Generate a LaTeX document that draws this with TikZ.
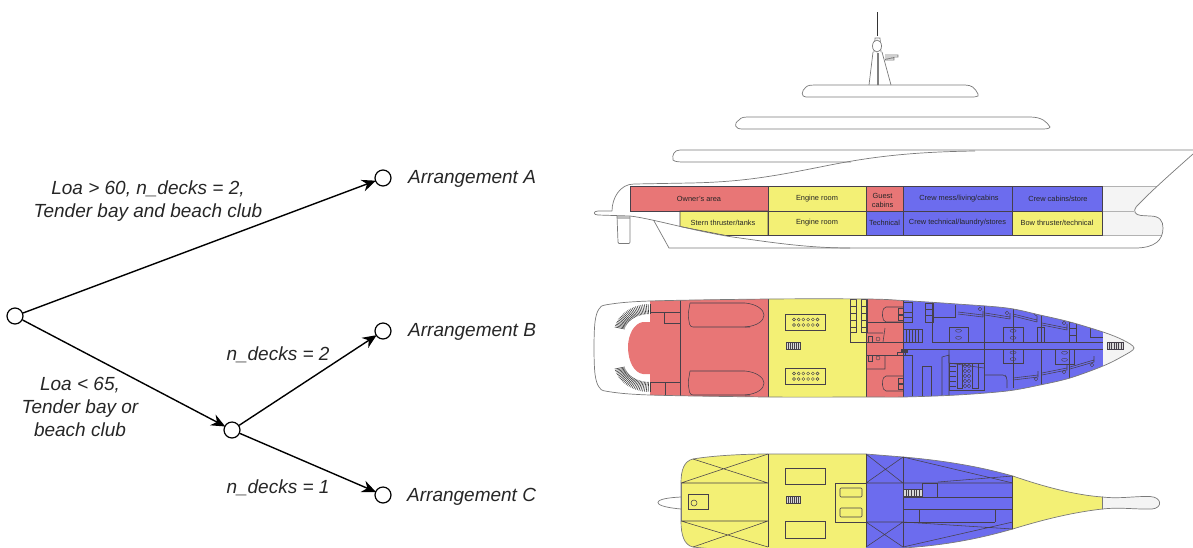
\documentclass[tikz,border=0pt]{standalone}
\usepackage{fontspec}
\setmainfont{Liberation Sans}
\usetikzlibrary{arrows.meta}
\definecolor{zred}{HTML}{E87676}
\definecolor{zyel}{HTML}{F3F075}
\definecolor{zblu}{HTML}{6C6CEE}
\definecolor{zgry}{HTML}{F4F4F4}
\definecolor{zlin}{HTML}{46404A}
\definecolor{zhul}{HTML}{7A7A7A}
\tikzset{
  dnode/.style={circle,draw=black,fill=white,line width=1.2pt,minimum size=16pt,inner sep=0pt},
  farrow/.style={line width=1.4pt,-{Stealth[length=14pt,width=12pt]},shorten >=-1pt},
  flabel/.style={font=\fontsize{19}{23}\selectfont\itshape,align=center,inner sep=0pt,text=black!85},
  clabel/.style={font=\fontsize{7.4}{9}\selectfont,align=center,inner sep=0pt,text=black!85},
  hull/.style={draw=zhul,line width=0.7pt},
  inner/.style={draw=zlin,line width=0.55pt},
  thin inner/.style={draw=zlin,line width=0.4pt},
}
\newcommand{\zBed}[6]{\draw[inner] (#1,#2)--(#3,#4) (#1,#2+2)--(#3,#4+2) (#3,#4+2)--(#3,#4-4);\draw[thin inner] (#5,#6) circle (1.8pt);}
\newcommand{\zStair}[4]{\draw[inner,fill=white!70!gray] (#1,#2) rectangle (#3,#4);\foreach \zi in {1,...,6}{\draw[thin inner] ({#1+\zi*(#3-#1)/7},#2)--({#1+\zi*(#3-#1)/7},#4);}}
\newcommand{\zWC}[4]{\draw[inner] (#1,#2) rectangle (#3,#4);\draw[thin inner] ({(#1+#3)/2},{#2+(#4-#2)*0.25}) ellipse (3pt and 1.5pt) ({(#1+#3)/2},{#2+(#4-#2)*0.72}) ellipse (3pt and 1.5pt);}
\begin{document}
\begin{tikzpicture}[x=1pt,y=-1pt]
\useasboundingbox (0,0) rectangle (1193,547);
% ---------- decision tree
\node[dnode] (root) at (15,316) {};
\node[dnode] (mid) at (232,430) {};
\node[dnode] (endA) at (383,178) {};
\node[dnode] (endB) at (383,331) {};
\node[dnode] (endC) at (383,495) {};
\draw[farrow] (root) -- (endA);
\draw[farrow] (root) -- (mid);
\draw[farrow] (mid) -- (endB);
\draw[farrow] (mid) -- (endC);
\node[flabel] (la) at (148,201.5) {Loa > 60, n\_decks = 2,\\Tender bay and beach club};
\node[flabel] (lb) at (80,407) {Loa < 65,\\Tender bay or\\beach club};
\node[flabel] (lc) at (278,355) {n\_decks = 2};
\node[flabel] (ld) at (278,488) {n\_decks = 1};
\node[flabel,anchor=west] (ta) at (408,179) {Arrangement A};
\node[flabel,anchor=west] (tb) at (408,332) {Arrangement B};
\node[flabel,anchor=west] (tc) at (407,497) {Arrangement C};
% ---------- side elevation
% mast
\draw[line width=1.1pt,black!80] (877.5,12)--(877.5,36);
\draw[hull] (869,85)--(873,52) (882,52)--(891,85) (874,52)--(875,38)--(880,38)--(881,52);
\draw[hull,fill=white] (877,46) ellipse (4.5pt and 6pt);
\draw[gray,line width=2pt,dash pattern=on 0.7pt off 0.3pt] (877.5,53)--(877.5,85);
\draw[hull] (885,55)--(898,55)--(898,57)--(885,57) (885,59)--(894,58)--(894,60)--(885,60);
% upper decks
\draw[hull] (806,97) .. controls (801,97) and (801,91) .. (806,87) .. controls (808,85) and (812,85) .. (815,85) -- (965,85) .. controls (972,85) and (975,88) .. (978,94) -- (978,96) .. controls (976,97) and (974,97) .. (970,97) -- cycle;
\draw[hull] (742,129) .. controls (735,129) and (733,124) .. (739,120) .. controls (741,117) and (745,117) .. (750,117) -- (1030,117) .. controls (1042,117) and (1047,122) .. (1050,127) .. controls (1049,129) and (1046,129) .. (1040,129) -- cycle;
% colour cells
\fill[zgry] (1102.5,186)--(1157,186)--(1134,211)--(1140,215)--(1151,216) .. controls (1160,216) and (1163,221) .. (1163,228) -- (1162,235.5) -- (1102.5,235.5) -- cycle;
\fill[zred] (630,186) rectangle (768,211);
\fill[zyel] (768,186) rectangle (866.5,211);
\fill[zred] (866.5,186) rectangle (903.5,211);
\fill[zblu] (903.5,186) rectangle (1102.5,211);
\fill[zyel] (680,226.5)--(680,211)--(866.5,211)--(866.5,235.5)--(726,235.5)--cycle;
\fill[zblu] (866.5,211) rectangle (1012,235.5);
\fill[zyel] (1012,211) rectangle (1102.5,235.5);
\draw[inner] (630,186) rectangle (768,211);
\draw[inner] (768,186) rectangle (866.5,211);
\draw[inner] (866.5,186) rectangle (903.5,211);
\draw[inner] (903.5,186) rectangle (1012,211);
\draw[inner] (1012,186) rectangle (1102.5,211);
\draw[inner] (680,226.5)--(680,211)--(768,211)--(768,235.5)--(726,235.5)--cycle;
\draw[inner] (768,211) rectangle (866.5,235.5);
\draw[inner] (866.5,211) rectangle (903.5,235.5);
\draw[inner] (903.5,211) rectangle (1012,235.5);
\draw[inner] (1012,211) rectangle (1102.5,235.5);
\draw[draw=gray!60,line width=0.5pt] (1102.5,186)--(1157,186) (1102.5,211)--(1134,211) (1102.5,235.5)--(1162,235.5);
\node[clabel] (c1) at (699,198.5) {Owner's area};
\node[clabel] (c2) at (817,198.5) {Engine room};
\node[clabel] (c3) at (882.5,200) {Guest\\cabins};
\node[clabel] (c4) at (959,198.5) {Crew mess/living/cabins};
\node[clabel] (c5) at (1058,198.5) {Crew cabins/store};
\node[clabel] (c6) at (723,222.5) {Stern thruster/tanks};
\node[clabel] (c7) at (817,222.5) {Engine room};
\node[clabel] (c8) at (884.5,222.5) {Technical};
\node[clabel] (c9) at (957.5,222.5) {Crew technical/laundry/stores};
\node[clabel] (c10) at (1057,222.5) {Bow thruster/technical};
% hull lines
\draw[hull] (1193,150)--(680,150) .. controls (674,150) and (672,155) .. (673,160) .. controls (675,162) and (680,162) .. (685,162) -- (851,162);
\draw[hull] (612,211) .. controls (612,198) and (620,184) .. (634,184) -- (690,183) .. controls (740,182) and (770,177) .. (820,167) .. controls (860,159) and (900,152) .. (975,151);
\draw[hull] (1193,154) .. controls (1175,170) and (1150,192) .. (1136,207) .. controls (1133,211) and (1135,215) .. (1141,215.5) -- (1150,216) .. controls (1160,216) and (1163,221) .. (1163,228) .. controls (1163,240) and (1155,248) .. (1135,248) -- (669,248) -- (653.5,220);
\draw[hull] (612,211)--(598,211) .. controls (593,211) and (593,215) .. (598,215) -- (630,216) .. controls (655,219) and (700,233) .. (740,238) .. controls (775,243) and (810,248) .. (850,248);
\fill[gray!50] (617,216) rectangle (630,218.5);
\draw[hull] (617,216)--(618,242) .. controls (618,243.5) and (619,243.5) .. (620,243.5) -- (628,243.5) .. controls (629,243.5) and (630,243.5) .. (630,242) -- (630,216);
% ---------- plan B
\begin{scope}
\clip plot[smooth cycle,tension=0.55] coordinates {(594,348)(595,322)(599,309)(608,304.5)(650,301)(769,299)(867,299)(903,300.5)(957,304)(1007,308)(1040,315)(1070,322)(1103,332)(1123,340)(1134,348)(1123,356)(1103,366)(1070,378)(1040,385)(1007,391)(957,395)(903,397)(867,397)(769,397)(650,395)(608,391.5)(599,387)(595,374)};
\fill[zred] (650,295) rectangle (768.5,400);
\fill[zyel] (768.5,295) rectangle (866.5,400);
\fill[zred] (866.5,295) rectangle (903,400);
\fill[zblu] (903,295) rectangle (1103,400);
\fill[zgry] (1103,320) rectangle (1140,380);
\fill[zred] (651,322) -- (643,322) .. controls (634,323) and (628,335) .. (628,347) .. controls (628,361) and (634,373) .. (643,374) -- (651,374) -- cycle;
% stern stairs
\foreach \a in {90,93,...,168}{
  \draw[gray!50!black,line width=0.6pt] ({650+36*cos(\a)},{333-29*sin(\a)})--({650+26*cos(\a)},{333-19*sin(\a)});
  \draw[gray!50!black,line width=0.6pt] ({650+36*cos(\a)},{363+29*sin(\a)})--({650+26*cos(\a)},{363+19*sin(\a)});
}
% red interior
\draw[inner] (680,299)--(680,397);
\draw[inner] (650,312)--(680,312) (664,312)--(664,323)--(680,323);
\draw[inner] (650,382)--(680,382) (665,382)--(665,397);
\draw[inner,rounded corners=3pt] (690,303) -- (688,315) -- (690,327) -- (750,327);
\draw[inner] (690,303)--(745,303) .. controls (757,304) and (764,310) .. (764,315) .. controls (764,321) and (757,326) .. (745,327);
\draw[inner,rounded corners=3pt] (690,371) -- (688,383) -- (690,395) -- (750,395);
\draw[inner] (690,371)--(745,371) .. controls (757,372) and (764,378) .. (764,383) .. controls (764,389) and (757,394) .. (745,395);
\draw[inner] (768.5,299)--(768.5,397) (866.5,299)--(866.5,397) (903,299)--(903,397);
% engine room
\draw[inner] (785,314) rectangle (825,330);
\draw[inner] (785,368) rectangle (825,384);
\foreach \cx in {0,1,...,5}{
  \foreach \cy in {319.5,325,373.5,379}{\draw[thin inner] ({794+\cx*4.7},\cy) circle (1.5pt);}
}
\zStair{786}{342}{800}{349}
% ladders
\foreach \lx in {850,861}{
  \draw[inner] (\lx,299) rectangle (\lx+6,332);
  \foreach \ly in {306,313,320,327}{\draw[inner] (\lx,\ly)--(\lx+6,\ly);}
}
\draw[inner] (850,332)--(850,342)--(903,342) (867,355)--(903,355) (867,322)--(903,322);
% guest cabins
\draw[inner,rounded corners=2pt] (903,307)--(884,307)--(882,314)--(884,322)--(903,322);
\draw[inner,rounded corners=2pt] (903,376)--(884,376)--(882,383)--(884,391)--(903,391);
\draw[thin inner] (898,308) rectangle (903,314) (898,315) rectangle (903,320) (898,378) rectangle (903,383) (898,384) rectangle (903,389);
\draw[inner] (867,333)--(883,333) (867,369)--(885,369)--(885,355) (885,328)--(883,342);
\draw[thin inner] (868,336) rectangle (872,342) (868,355) rectangle (872,361);
\draw[thin inner] (878,339) circle (2pt) (878,358) circle (2pt);
% blue interior
\draw[inner] (932,342)--(1103,342) (903,349)--(1103,349);
\draw[inner] (932,302)--(932,342) (984,305)--(984,388) (1013,308)--(1013,342) (1013,349)--(1013,388) (1041,313)--(1041,342) (1041,349)--(1041,387) (1069,322)--(1069,342) (1069,349)--(1069,380);
\draw[inner] (925,303) rectangle (933,322) (925,309)--(933,309) (925,315)--(933,315);
\draw[inner] (933,317)--(955,317)--(955,305);
\draw[inner] (903,302) rectangle (912,322) (903,312)--(912,312) (903,317)--(912,317);
\draw[inner] (903,355)--(912,355)--(912,396);
\draw[inner] (922,396)--(922,366)--(931,366)--(931,396);
\draw[inner] (942,396)--(942,357)--(949,355)--(949,396);
\draw[inner] (949,349)--(949,363)--(984,368);
\zBed{958}{312}{983}{315}{980}{309}
\zBed{985}{313}{1010}{317}{1007}{313}
\zBed{1013}{314}{1037}{320}{1036}{314}
\zBed{1042}{323}{1067}{328}{1064}{323}
\zBed{1013}{378}{1038}{375}{1036}{379}
\zBed{1042}{373}{1067}{368}{1064}{372}
\zBed{1070}{367}{1094}{360}{1092}{365}
\zWC{949}{327}{968}{342}
\zWC{1003}{327}{1023}{342}
\zWC{1003}{349}{1023}{363}
\zWC{1055}{349}{1074}{364}
\draw[inner] (1037,327) rectangle (1044,342);
\draw[inner] (1069,322) rectangle (1076,342) (1069,328)--(1076,328) (1069,335)--(1076,335);
\draw[inner] (1090,327)--(1090,337)--(1103,337);
\draw[inner,rounded corners=2pt] (985,375)--(1005,375)--(1007,378)--(1007,388);
\draw[inner] (903,329) rectangle (922,342);
\foreach \sx in {906,909,...,920}{\draw[inner] (\sx,329)--(\sx,342);}
\fill[zlin] (901,349) rectangle (908,353);
\draw[inner] (897,352) rectangle (905,355);
% galley
\draw[inner] (949,363) rectangle (984,390);
\draw[inner] (957,363) rectangle (962,388) (972,363) rectangle (978,388);
\foreach \gy in {366,371,...,386}{
  \draw[thin inner] (950,\gy)--(956,\gy);
  \draw[thin inner] (965,\gy) circle (1.8pt) (969,\gy) circle (1.8pt);
}
\zStair{1107}{342}{1123}{349}
\end{scope}
\draw[hull] plot[smooth cycle,tension=0.55] coordinates {(594,348)(595,322)(599,309)(608,304.5)(650,301)(769,299)(867,299)(903,300.5)(957,304)(1007,308)(1040,315)(1070,322)(1103,332)(1123,340)(1134,348)(1123,356)(1103,366)(1070,378)(1040,385)(1007,391)(957,395)(903,397)(867,397)(769,397)(650,395)(608,391.5)(599,387)(595,374)};
% ---------- plan C
\begin{scope}
\clip (0,0) rectangle (1193,547);
\draw[hull,fill=zgry] (1102.5,497) .. controls (1120,499) and (1135,496) .. (1150,496.5) .. controls (1162,497) and (1163,508) .. (1152,509) .. controls (1135,509.5) and (1120,507) .. (1102.5,509) -- cycle;
\draw[hull,fill=white] (681,497) .. controls (670,497.5) and (658,499) .. (658,502.5) .. controls (658,506) and (670,508) .. (681,509);
\begin{scope}
\clip (681,483) .. controls (681,470) and (684,461) .. (693,459) .. controls (710,456) and (740,454) .. (768,454) -- (866,454) -- (903,457) .. controls (950,461) and (985,468) .. (1012.7,476) .. controls (1045,487) and (1075,495) .. (1102.5,497) -- (1102.5,509) .. controls (1075,512) and (1045,519) .. (1012.7,529) .. controls (985,537) and (950,545) .. (903,548) -- (866,551) -- (768,551) .. controls (740,551) and (710,549) .. (693,547) .. controls (684,545) and (681,535) .. (681,521) -- cycle;
\fill[zyel] (675,450) rectangle (866,551);
\fill[zblu] (866,450) rectangle (1012.7,551);
\fill[zyel] (1012.7,450) rectangle (1103,551);
\end{scope}
\draw[hull] (681,483) .. controls (681,470) and (684,461) .. (693,459) .. controls (710,456) and (740,454) .. (768,454) -- (866,454) -- (903,457) .. controls (950,461) and (985,468) .. (1012.7,476) .. controls (1045,487) and (1075,495) .. (1102.5,497) -- (1102.5,509) .. controls (1075,512) and (1045,519) .. (1012.7,529) .. controls (985,537) and (950,545) .. (903,548) -- (866,551) -- (768,551) .. controls (740,551) and (710,549) .. (693,547) .. controls (684,545) and (681,535) .. (681,521) -- cycle;
\draw[hull] (681,483)--(681,521);
\draw[inner] (768,454)--(768,547) (866,454)--(866,547) (903,457)--(903,547) (1012.7,476)--(1012.7,529);
\draw[inner] (681,483)--(768,483) (693,459)--(768,483) (768,454)--(681,483);
\draw[inner] (681,521)--(768,521) (681,521)--(768,547) (768,521)--(693,547);
\draw[inner] (785,468) rectangle (825,484) (785,521) rectangle (825,538);
\zStair{786}{496}{800}{503}
\draw[inner] (688,494) rectangle (708,509);
\draw[inner] (694,503) circle (3pt);
\draw[inner] (835,483) rectangle (866,522);
\draw[inner,rounded corners=1pt] (840,488) rectangle (862,497);
\draw[inner,rounded corners=1pt] (840,508) rectangle (862,517);
\draw[inner] (866,483)--(1012.7,483) (866,522)--(903,522) (866,454)--(903,483) (903,457)--(866,483) (866,522)--(903,547) (903,522)--(866,547);
\draw[inner] (903,457)--(1012.7,483) (938,482)--(1012.7,476);
\draw[inner] (903,547)--(1012.7,522) (903,522)--(1012.7,529);
\draw[inner] (922,483) rectangle (937,497);
\draw[inner] (903,497)--(1012.7,497) (903,509)--(1012.7,509) (903,522)--(995,522);
\draw[inner] (919,509)--(919,522) (995,509)--(995,522);
\zStair{903}{489}{922}{496}
\end{scope}
\end{tikzpicture}
\end{document}
